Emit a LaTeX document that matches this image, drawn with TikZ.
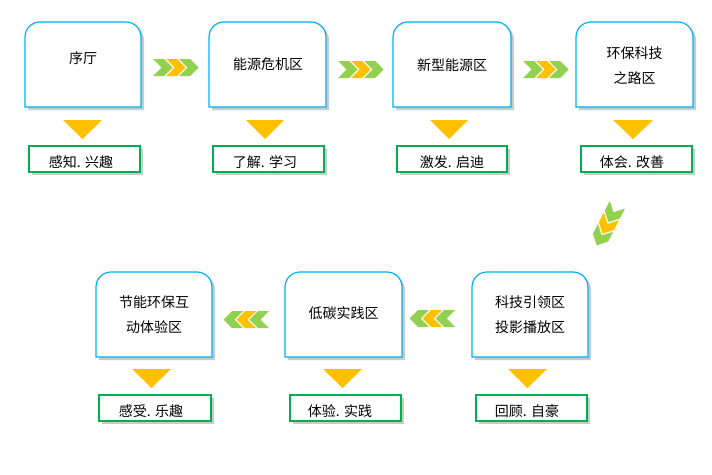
\documentclass[tikz,border=0pt]{standalone}
\usepackage{fontspec}
\setmainfont{Noto Sans CJK SC}
\definecolor{boxblue}{RGB}{0,176,240}
\definecolor{labgreen}{RGB}{0,176,80}
\definecolor{chgreen}{RGB}{146,208,80}
\definecolor{chorange}{RGB}{255,192,0}
\definecolor{shad}{RGB}{150,150,150}
\tikzset{
  zonetext/.style={font=\fontsize{14}{25}\selectfont, align=center, inner sep=0pt, text=black},
  labtext/.style={font=\fontsize{14}{18}\selectfont, inner sep=0pt, text=black},
  boxline/.style={draw=boxblue, line width=1.2pt, fill=white},
  labline/.style={draw=labgreen, line width=1.1pt, fill=white},
  shadowfill/.style={fill=shad, opacity=0.5},
  tri/.style={fill=chorange},
}
% top-rounded box: x1 y1 x2 y2
\newcommand\zbox[4]{%
  \fill[shadowfill] (#1+3,#4+3) -- (#1+3,#2+18) arc[start angle=180,end angle=270,radius=15] -- (#3-12,#2+3) arc[start angle=270,end angle=360,radius=15] -- (#3+3,#4+3) -- cycle;
  \path[boxline] (#1,#4) -- (#1,#2+15) arc[start angle=180,end angle=270,radius=15] -- (#3-15,#2) arc[start angle=270,end angle=360,radius=15] -- (#3,#4) -- cycle;}
\newcommand\lbox[4]{%
  \fill[shadowfill] (#1+3,#2+3) rectangle (#3+3,#4+3);
  \path[labline] (#1,#2) rectangle (#3,#4);}
\newcommand\tridown[3]{% xleft xright ytop
  \fill[tri] (#1,#3) -- (#2,#3) -- ({(#1+#2)/2},#3+19) -- cycle;}
\newcommand\onechev[1]{%
  \fill[#1] (0,0) -- ++(11,0) -- ++(8.5,8.5) -- ++(-8.5,8.5) -- ++(-11,0) -- ++(8.5,-8.5) -- cycle;}
\newcommand\chevgroup{%
  \onechev{chgreen}
  \begin{scope}[xshift=13]\onechev{chorange}\end{scope}
  \begin{scope}[xshift=26]\onechev{chgreen}\end{scope}}
\begin{document}
\begin{tikzpicture}[x=1pt,y=-1pt]
\useasboundingbox (0,0) rectangle (712,474);
\fill[white] (0,0) rectangle (712,474);
% row 1 boxes
\zbox{25}{22}{141}{107}
\zbox{209}{22}{326}{107}
\zbox{393}{22}{511}{107}
\zbox{576}{22}{693}{107}
% row 2 boxes
\zbox{96}{272}{212}{357}
\zbox{285}{272}{402}{357}
\zbox{472}{272}{588}{357}
% zone texts
\node[zonetext] (z1) at (83,58.5) {序厅};
\node[zonetext] (z2) at (268,64.5) {能源危机区};
\node[zonetext] (z3) at (452,65) {新型能源区};
\node[zonetext] (z4) at (634.5,65.5) {环保科技\\之路区};
\node[zonetext] (z7) at (154,315) {节能环保互\\动体验区};
\node[zonetext] (z6) at (343.5,313) {低碳实践区};
\node[zonetext] (z5) at (530,315) {科技引领区\\投影播放区};
% triangles
\tridown{63}{102}{120}
\tridown{246}{284}{120}
\tridown{430}{468}{120}
\tridown{613}{653}{120}
\tridown{132}{171}{369}
\tridown{323}{362}{369}
\tridown{508}{547}{369}
% label boxes
\lbox{29}{146}{140}{172}
\lbox{213}{146}{324}{172}
\lbox{397}{146}{507}{172}
\lbox{581}{146}{692}{172}
\lbox{99}{395}{211}{421}
\lbox{290}{395}{401}{421}
\lbox{476}{395}{587}{421}
\node[labtext] (l1) at (81,162) {感知. 兴趣};
\node[labtext] (l2) at (265,162) {了解. 学习};
\node[labtext] (l3) at (452,162) {激发. 启迪};
\node[labtext] (l4) at (632,162) {体会. 改善};
\node[labtext] (l7) at (151,411) {感受. 乐趣};
\node[labtext] (l6) at (340,411) {体验. 实践};
\node[labtext] (l5) at (527,411) {回顾. 自豪};
% chevrons row 1
\begin{scope}[shift={(153,59)}]\chevgroup\end{scope}
\begin{scope}[shift={(338,61)}]\chevgroup\end{scope}
\begin{scope}[shift={(523,61)}]\chevgroup\end{scope}
% chevrons row 2 (pointing left)
\begin{scope}[shift={(269,311)},xscale=-1]\chevgroup\end{scope}
\begin{scope}[shift={(455,310)},xscale=-1]\chevgroup\end{scope}
% diagonal chevrons
\begin{scope}[shift={(607,225)},rotate=-117]\begin{scope}[shift={(-22.75,-8.5)}]\chevgroup\end{scope}\end{scope}
\end{tikzpicture}
\end{document}
